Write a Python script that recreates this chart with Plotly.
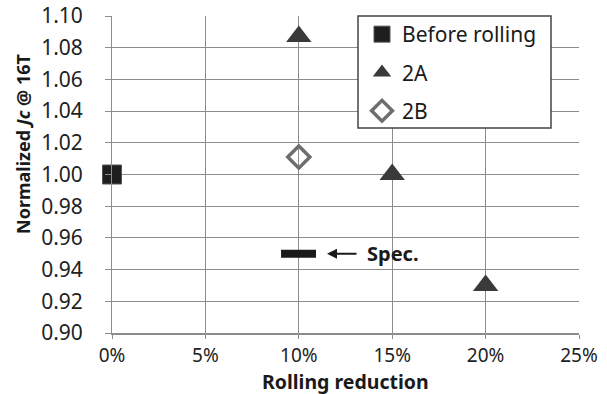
import plotly.graph_objects as go

# Data
before_x = [0.0]
before_y = [1.00]
a2_x = [0.10, 0.15, 0.20]
a2_y = [1.087, 1.000, 0.930]
b2_x = [0.10]
b2_y = [1.011]
spec_x = [0.0905, 0.1092]
spec_y = [0.95, 0.95]
x_ticks = [0, 0.05, 0.10, 0.15, 0.20, 0.25]
y_ticks = [0.90, 0.92, 0.94, 0.96, 0.98, 1.00, 1.02, 1.04, 1.06, 1.08, 1.10]

FONT = "Noto Sans"
W, H = 607, 394
# plot-area edges in pixels
L, R, T, B = 112, 579, 16, 333


def px(xs):
    return (xs - L) / (R - L)


def py(ys):
    return (B - ys) / (B - T)


fig = go.Figure()
fig.add_trace(go.Scatter(x=before_x, y=before_y, mode="markers", name="Before rolling",
                         legendgroup="a", cliponaxis=False,
                         marker=dict(symbol="square", size=19, color="#1e1e1e",
                                     line=dict(width=1, color="#555555"))))
fig.add_trace(go.Scatter(x=a2_x, y=a2_y, mode="markers", name="2A", legendgroup="b",
                         cliponaxis=False,
                         marker=dict(symbol="triangle-up", size=22, color="#3a3a3a")))
fig.add_trace(go.Scatter(x=b2_x, y=b2_y, mode="markers", name="2B", legendgroup="c",
                         cliponaxis=False,
                         marker=dict(symbol="diamond-open", size=17, color="#6e6e6e",
                                     line=dict(width=3.5, color="#6e6e6e"))))
fig.add_trace(go.Scatter(x=spec_x, y=spec_y, mode="lines", showlegend=False,
                         line=dict(color="#1a1a1a", width=8)))

fig.add_annotation(x=0.1151, y=0.95, ax=0.1317, ay=0.95, xref="x", yref="y",
                   axref="x", ayref="y", showarrow=True, arrowhead=2, arrowsize=1,
                   arrowwidth=2, arrowcolor="#1a1a1a", text="")
fig.add_annotation(x=0.1355, y=0.95, xref="x", yref="y", text="<b>Spec.</b>",
                   showarrow=False, xanchor="left", yanchor="middle",
                   font=dict(family=FONT, size=20, color="#1a1a1a"))

# y-axis title placed as rotated annotation
fig.add_annotation(x=px(23), y=py(144), xref="paper", yref="paper",
                   text="<b>Normalized <i>Jc</i> @ 16T</b>", textangle=-90,
                   showarrow=False, xanchor="center", yanchor="middle",
                   font=dict(family=FONT, size=18, color="#1a1a1a"))
# x-axis title
fig.add_annotation(x=0.5, y=py(381), xref="paper", yref="paper",
                   text="<b>Rolling reduction</b>", showarrow=False,
                   xanchor="center", yanchor="middle",
                   font=dict(family=FONT, size=19.5, color="#1a1a1a"))

# legend box
fig.add_shape(type="rect", xref="paper", yref="paper",
              x0=px(358), x1=px(551), y0=py(128), y1=1.0,
              line=dict(color="#444444", width=1.5), fillcolor="white", layer="above")

fig.update_layout(
    width=W, height=H,
    margin=dict(l=L, r=W - R, t=T, b=H - B, autoexpand=False),
    paper_bgcolor="white", plot_bgcolor="white",
    font=dict(family=FONT, size=18, color="#222222"),
    showlegend=True,
    legend=dict(x=px(362), y=py(14), xanchor="left", yanchor="top",
                bgcolor="rgba(0,0,0,0)", borderwidth=0,
                font=dict(family=FONT, size=21, color="#1a1a1a"),
                tracegroupgap=8),
    xaxis=dict(range=[0, 0.25], tickvals=x_ticks, tickformat=".0%",
               showgrid=True, gridcolor="#8c8c8c", gridwidth=1,
               showline=True, linecolor="#8c8c8c", linewidth=1.5,
               ticks="outside", ticklen=4, tickcolor="#8c8c8c",
               zeroline=False, automargin=False, tickfont=dict(size=19)),
    yaxis=dict(range=[0.90, 1.10], tickvals=y_ticks, tickformat=".2f",
               showgrid=True, gridcolor="#8c8c8c", gridwidth=1,
               showline=True, linecolor="#8c8c8c", linewidth=1,
               ticks="outside", ticklen=6, tickcolor="#8c8c8c",
               zeroline=False, automargin=False, tickfont=dict(size=21),
               ticklabelstandoff=18, ticklabeloverflow="allow"),
)

fig.write_html("out.html", config={"displayModeBar": False},
               post_script="document.body.style.margin='0';document.body.style.overflow='hidden';")
